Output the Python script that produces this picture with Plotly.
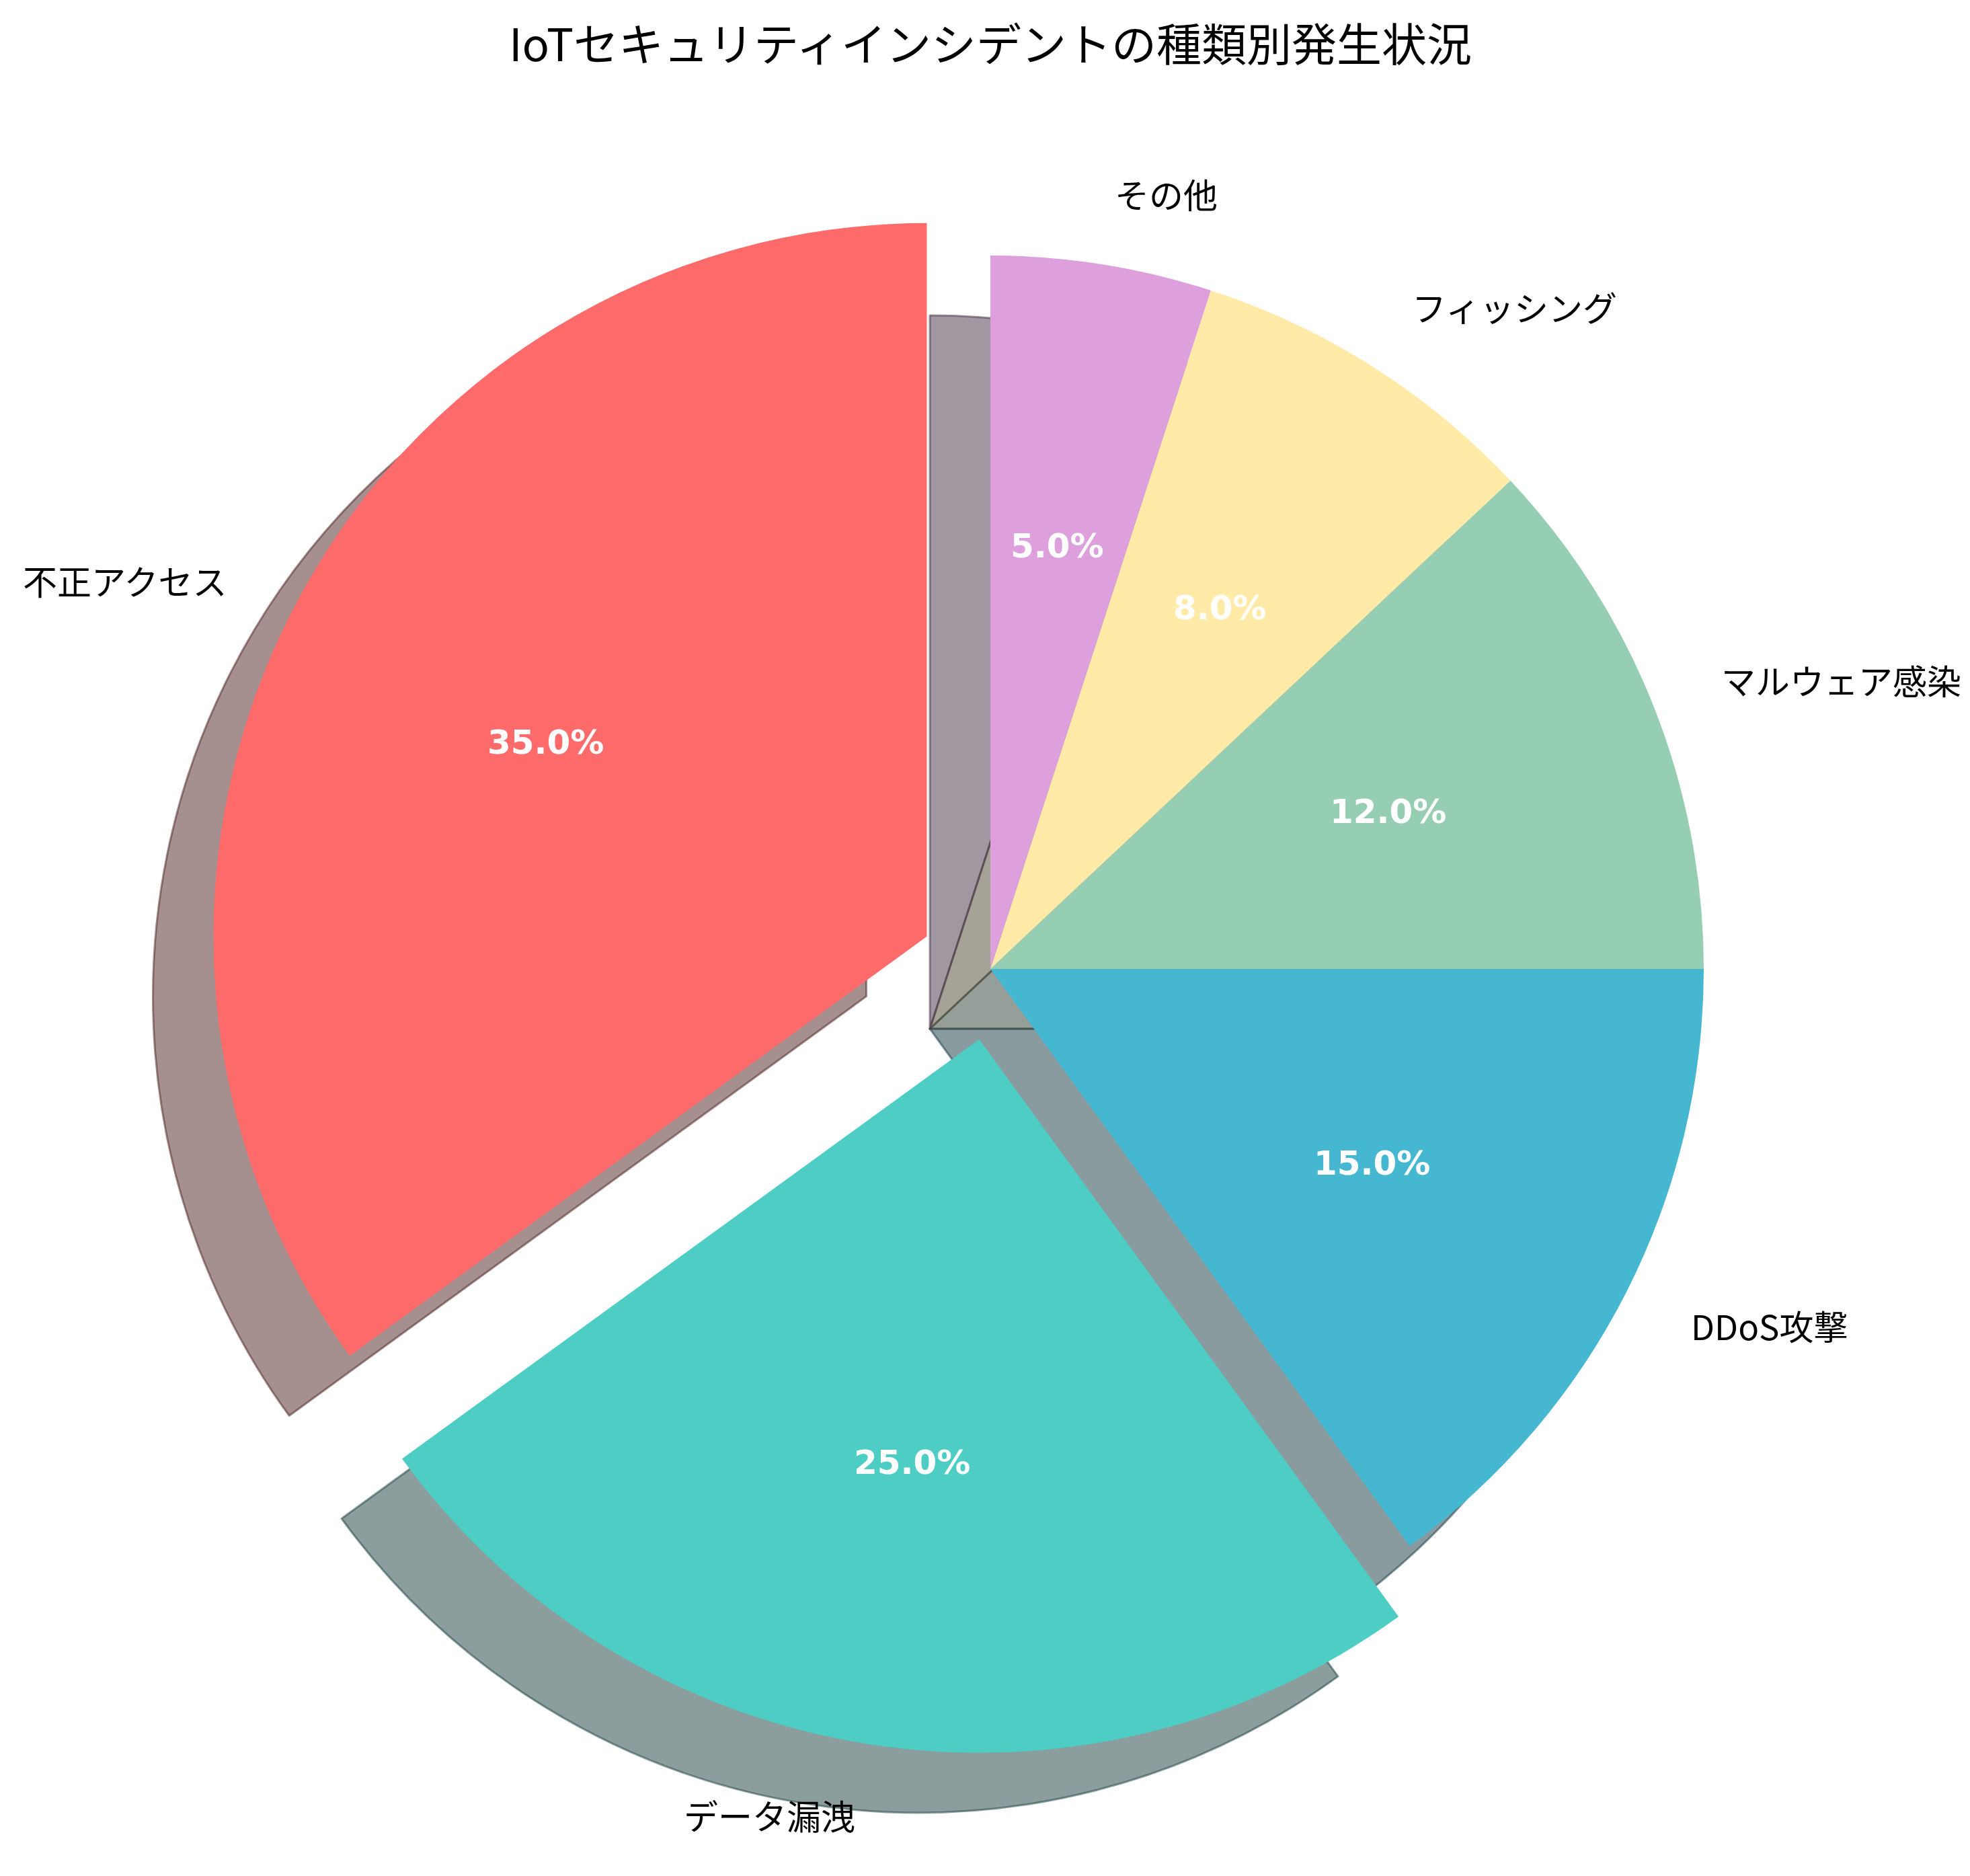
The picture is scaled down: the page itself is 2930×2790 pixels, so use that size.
import numpy as np
import plotly.graph_objects as go

# ---- data ----
categories = ["不正アクセス", "データ漏洩", "DDoS攻撃", "マルウェア感染", "フィッシング", "その他"]
values = [35, 25, 15, 12, 8, 5]
colors = ["#FF6B6B", "#4ECDC4", "#45B7D1", "#96CEB4", "#FFEAA7", "#DDA0DD"]
explode = [0.1, 0.1, 0, 0, 0, 0]
title_text = "IoTセキュリティインシデントの種類別発生状況"

# ---- layout geometry (pixels) ----
W, H = 2930, 2790
CX, CY = 1465, 1433
R = 1061
SH_DX, SH_DY = -90, 89
max_pull = max(explode)
box = 2 * R * (1 + max_pull)

JP_FONT = "Noto Sans CJK JP"

total = float(sum(values))
# plotly's counterclockwise pies end the first slice at 12 o'clock;
# rotate so the first slice starts at 12 o'clock (matplotlib startangle=90)
rot = -360.0 * values[0] / total


def domain(cx, cy):
    return dict(x=[(cx - box / 2) / W, (cx + box / 2) / W],
                y=[1 - (cy + box / 2) / H, 1 - (cy - box / 2) / H])


def shadow_color(hexc):
    r, g, b = (int(hexc[i:i + 2], 16) for i in (1, 3, 5))
    return f"rgba({0.3 * r:.0f},{0.3 * g:.0f},{0.3 * b:.0f},0.5)"


sh_colors = [shadow_color(c) for c in colors]

fig = go.Figure()

# shadow
fig.add_trace(go.Pie(
    labels=categories, values=values, sort=False, direction="counterclockwise",
    rotation=rot, pull=explode, textinfo="none", hoverinfo="skip",
    marker=dict(colors=sh_colors, line=dict(color=sh_colors, width=3)),
    domain=domain(CX + SH_DX, CY + SH_DY), showlegend=False,
))

# main pie
fig.add_trace(go.Pie(
    labels=categories, values=values, sort=False, direction="counterclockwise",
    rotation=rot, pull=explode, textinfo="none", hoverinfo="label+percent",
    marker=dict(colors=colors, line=dict(width=0)),
    domain=domain(CX, CY), showlegend=False,
))

# labels & percentages (positions derived from the data angles)
annotations = []
start = 90.0
for lab, v, e in zip(categories, values, explode):
    span = 360.0 * v / total
    mid = np.deg2rad(start + span / 2)
    start += span
    ox = CX + e * R * np.cos(mid)
    oy = CY - e * R * np.sin(mid)
    # percent
    px_ = ox + 0.6 * R * np.cos(mid)
    py_ = oy - 0.6 * R * np.sin(mid)
    annotations.append(dict(
        x=px_ / W, y=1 - py_ / H, xref="paper", yref="paper",
        text=f"{v / total * 100:.1f}%", showarrow=False,
        xanchor="center", yanchor="middle",
        font=dict(family="DejaVu Sans", size=50, color="white", weight="bold"),
    ))
    # label
    lx = ox + 1.1 * R * np.cos(mid)
    ly = oy - 1.1 * R * np.sin(mid)
    annotations.append(dict(
        x=lx / W, y=1 - ly / H, xref="paper", yref="paper",
        text=lab, showarrow=False,
        xanchor="left" if np.cos(mid) > 0 else "right", yanchor="middle",
        font=dict(family=JP_FONT, size=51, color="black"),
    ))

fig.update_layout(
    width=W, height=H, autosize=False,
    margin=dict(l=0, r=0, t=0, b=0),
    paper_bgcolor="white", plot_bgcolor="white",
    title=dict(text=title_text, x=0.5, xanchor="center", y=1 - 60 / H, yanchor="middle",
               font=dict(family=JP_FONT, size=67, color="black")),
    annotations=annotations,
)

fig.write_html("out.html")
